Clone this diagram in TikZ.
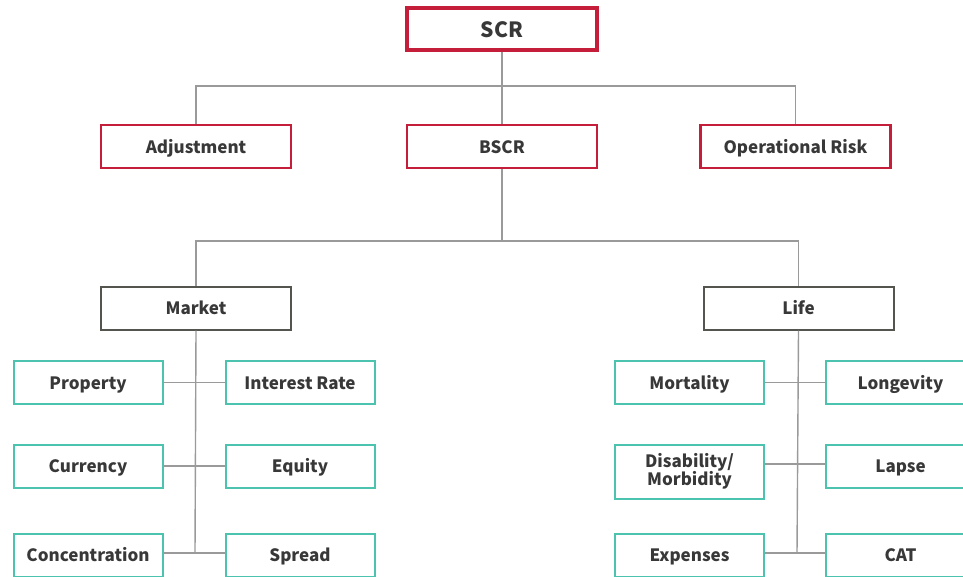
\documentclass[tikz,border=0pt]{standalone}
\usepackage{fontspec}
\setmainfont{Noto Sans CJK KR}
\begin{document}
\begin{tikzpicture}[x=1pt,y=-1pt,
  basebox/.style={draw,fill=white,minimum width=#1,minimum height=43pt,inner sep=0pt,font=\fontsize{17}{18.5}\selectfont\bfseries,text=txt,align=center},
  basebox/.default=190pt,
  box/.style={basebox=#1,text height=13pt,text depth=0pt},
  box/.default=190pt,
  redbox/.style={box,draw=crim,line width=2.2pt},
  topbox/.style={box,draw=crim,line width=3.4pt,font=\fontsize{21}{22}\selectfont\bfseries,text height=17pt,text depth=0pt},
  darkbox/.style={box,draw=dark,line width=2pt},
  tealbox/.style={box=149pt,draw=teal1,line width=2pt},
  tealbox2/.style={basebox=149pt,draw=teal1,line width=2pt},
  conn/.style={draw=linec,line width=1.4pt}]
\definecolor{crim}{HTML}{C41E3A}
\definecolor{dark}{HTML}{55554F}
\definecolor{teal1}{HTML}{4CC3AE}
\definecolor{linec}{HTML}{9A9A9A}
\definecolor{txt}{HTML}{383838}
\useasboundingbox (0,0) rectangle (963,576);
\coordinate (j1) at (502,86);
\coordinate (j2) at (502,241);
\coordinate (m3) at (195,553);
\coordinate (l2) at (797,464);
\coordinate (l3) at (797,553);
\node[topbox,minimum height=42pt] (scr) at (502,29) {SCR};
\node[redbox] (adj) at (196,146.5) {Adjustment};
\node[redbox] (bscr) at (502,146.5) {BSCR};
\node[redbox] (op) at (795.5,146.5) {Operational Risk};
\node[darkbox] (mkt) at (196,308) {Market};
\node[darkbox] (life) at (798.5,308) {Life};
\node[tealbox] (prop) at (88,382.5) {Property};
\node[tealbox] (ir) at (300,382.5) {Interest Rate};
\node[tealbox] (cur) at (88,466) {Currency};
\node[tealbox] (eq) at (300,466) {Equity};
\node[tealbox] (conc) at (88,555) {Concentration};
\node[tealbox] (spr) at (300,555) {Spread};
\node[tealbox] (mort) at (689.5,382.5) {Mortality};
\node[tealbox] (long) at (900.5,382.5) {Longevity};
\node[tealbox2,minimum height=54pt] (dis) at (689.5,471.5) {Disability/\\Morbidity};
\node[tealbox] (lapse) at (900.5,466) {Lapse};
\node[tealbox] (exp) at (689.5,555) {Expenses};
\node[tealbox] (cat) at (900.5,555) {CAT};
\draw[conn] (scr.south) -- (j1) -| (adj.north);
\draw[conn] (j1) -| (op.north);
\draw[conn] (j1) -- (bscr.north);
\draw[conn] (bscr.south) -- (j2) -| (mkt.north);
\draw[conn] (j2) -| (life.north);
\draw[conn] (mkt.south) -- (m3);
\draw[conn] (prop.east) -- (ir.west);
\draw[conn] (cur.east) -- (eq.west);
\draw[conn] (conc.east |- m3) -- (spr.west |- m3);
\draw[conn] (life.south) -- (l3);
\draw[conn] (mort.east) -- (long.west);
\draw[conn] (dis.east |- l2) -- (lapse.west |- l2);
\draw[conn] (exp.east |- l3) -- (cat.west |- l3);
\end{tikzpicture}
\end{document}
